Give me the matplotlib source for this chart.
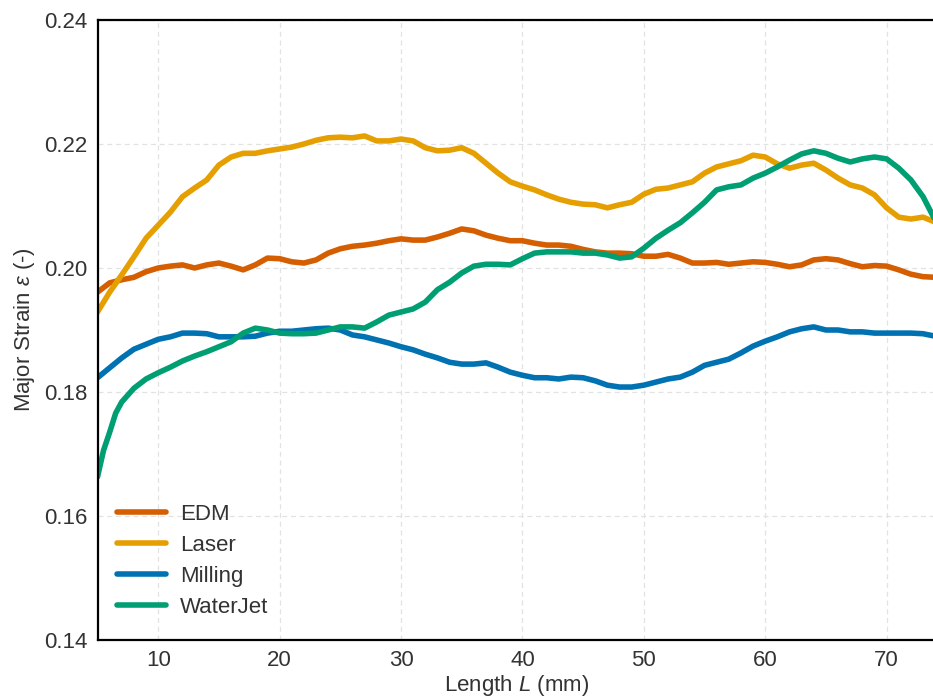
import matplotlib
matplotlib.use("Agg")
import matplotlib.pyplot as plt

plt.rcParams['font.family'] = ['Liberation Sans', 'DejaVu Sans']
plt.rcParams['mathtext.fontset'] = 'custom'
plt.rcParams['mathtext.it'] = 'Liberation Sans:italic'
plt.rcParams['mathtext.rm'] = 'Liberation Sans'

length = list(range(5, 75))

edm = [0.1961, 0.1976, 0.1981, 0.1985, 0.1994, 0.2000, 0.2003, 0.2005, 0.2000, 0.2005,
       0.2008, 0.2003, 0.1997, 0.2005, 0.2016, 0.2015, 0.2010, 0.2008, 0.2013, 0.2024,
       0.2031, 0.2035, 0.2037, 0.2040, 0.2044, 0.2047, 0.2045, 0.2045, 0.2050, 0.2056,
       0.2063, 0.2060, 0.2053, 0.2048, 0.2044, 0.2044, 0.2040, 0.2037, 0.2037, 0.2035,
       0.2030, 0.2026, 0.2024, 0.2024, 0.2023, 0.2019, 0.2019, 0.2022, 0.2016, 0.2008,
       0.2008, 0.2009, 0.2006, 0.2008, 0.2010, 0.2009, 0.2006, 0.2002, 0.2005, 0.2013,
       0.2015, 0.2013, 0.2007, 0.2002, 0.2004, 0.2003, 0.1997, 0.1990, 0.1986, 0.1985]

laser = [0.1929, 0.1961, 0.1989, 0.2018, 0.2048, 0.2069, 0.2090, 0.2115, 0.2129, 0.2142,
         0.2166, 0.2179, 0.2185, 0.2185, 0.2189, 0.2192, 0.2195, 0.2200, 0.2206, 0.2210,
         0.2211, 0.2210, 0.2213, 0.2205, 0.2205, 0.2208, 0.2205, 0.2194, 0.2189, 0.2190,
         0.2194, 0.2185, 0.2169, 0.2153, 0.2139, 0.2132, 0.2126, 0.2118, 0.2111, 0.2106,
         0.2103, 0.2102, 0.2097, 0.2102, 0.2106, 0.2119, 0.2127, 0.2129, 0.2134, 0.2139,
         0.2153, 0.2163, 0.2168, 0.2173, 0.2182, 0.2179, 0.2168, 0.2161, 0.2166, 0.2169,
         0.2158, 0.2145, 0.2134, 0.2129, 0.2118, 0.2097, 0.2082, 0.2079, 0.2082, 0.2074]

milling = [0.1823, 0.1839, 0.1855, 0.1869, 0.1877, 0.1885, 0.1889, 0.1895, 0.1895, 0.1894,
           0.1889, 0.1889, 0.1889, 0.1890, 0.1895, 0.1898, 0.1898, 0.1900, 0.1902, 0.1903,
           0.1900, 0.1892, 0.1889, 0.1884, 0.1879, 0.1873, 0.1868, 0.1861, 0.1855, 0.1848,
           0.1845, 0.1845, 0.1847, 0.1840, 0.1832, 0.1827, 0.1823, 0.1823, 0.1821, 0.1824,
           0.1823, 0.1818, 0.1811, 0.1808, 0.1808, 0.1811, 0.1816, 0.1821, 0.1824, 0.1832,
           0.1843, 0.1848, 0.1853, 0.1863, 0.1874, 0.1882, 0.1889, 0.1897, 0.1902, 0.1905,
           0.1900, 0.1900, 0.1897, 0.1897, 0.1895, 0.1895, 0.1895, 0.1895, 0.1894, 0.1890]

length_wj = [5, 5.5, 6, 6.5] + list(range(7, 75))
waterjet = [0.1663, 0.1706, 0.1735, 0.1766,
            0.1784, 0.1806, 0.1821, 0.1831, 0.1840, 0.1850, 0.1858, 0.1865, 0.1873, 0.1881,
            0.1895, 0.1903, 0.1900, 0.1895, 0.1894, 0.1894, 0.1895, 0.1900, 0.1905, 0.1905,
            0.1903, 0.1913, 0.1924, 0.1929, 0.1934, 0.1945, 0.1965, 0.1977, 0.1992, 0.2003,
            0.2006, 0.2006, 0.2005, 0.2015, 0.2024, 0.2026, 0.2026, 0.2026, 0.2024, 0.2024,
            0.2021, 0.2016, 0.2018, 0.2032, 0.2048, 0.2061, 0.2073, 0.2089, 0.2106, 0.2126,
            0.2131, 0.2134, 0.2145, 0.2153, 0.2163, 0.2174, 0.2184, 0.2189, 0.2185, 0.2177,
            0.2171, 0.2176, 0.2179, 0.2176, 0.2161, 0.2142, 0.2115, 0.2077]

series = [("EDM", length, edm, "#D55E00"),
          ("Laser", length, laser, "#E69F00"),
          ("Milling", length, milling, "#0072B2"),
          ("WaterJet", length_wj, waterjet, "#009E73")]

x_ticks = [10, 20, 30, 40, 50, 60, 70]
y_ticks = [0.14, 0.16, 0.18, 0.20, 0.22, 0.24]

fig = plt.figure(figsize=(9.33, 7.0), dpi=100)
ax = fig.add_axes([97.5 / 933, 60 / 700, (933 - 97.5) / 933 + 0.003, 620 / 700])

for name, xs, ys, col in series:
    ax.plot(xs, ys, color=col, lw=4.0, label=name, solid_capstyle='round',
            solid_joinstyle='round')

ax.set_xlim(5, 74.05)
ax.set_ylim(0.14, 0.24)
ax.set_xticks(x_ticks)
ax.set_yticks(y_ticks)
ax.set_yticklabels([f"{v:.2f}" for v in y_ticks])
ax.grid(True, color='#e2e2e2', linestyle=(0, (4, 3)), linewidth=0.9)
ax.set_axisbelow(True)
ax.tick_params(length=0, pad=7, labelsize=16, colors='#333333')
for s in ax.spines.values():
    s.set_color('black')
    s.set_linewidth(1.6)

ax.set_xlabel(r"Length $L$ (mm)", fontsize=16, color='#333333', labelpad=2)
ax.set_ylabel(r"Major Strain $\varepsilon$ (-)", fontsize=16, color='#333333', labelpad=5)

leg = ax.legend(loc='lower left', bbox_to_anchor=(0.002, 0.007), frameon=False,
                fontsize=16, handlelength=2.2, handletextpad=0.65, labelspacing=0.45,
                borderaxespad=0.4)
for t in leg.get_texts():
    t.set_color('#333333')

fig.savefig("out.png", dpi=100)
